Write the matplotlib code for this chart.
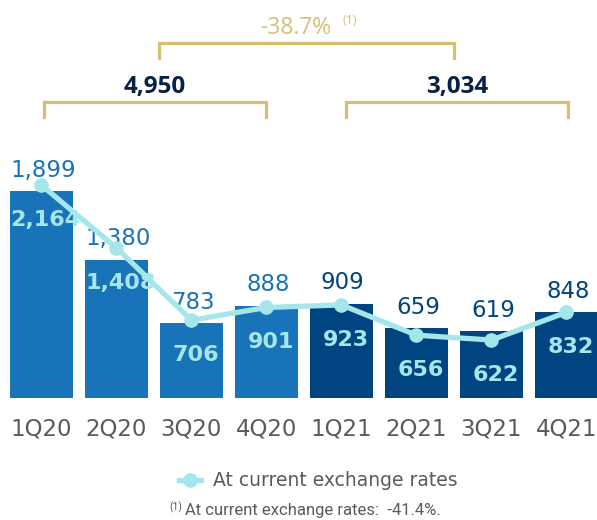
import numpy as np
import matplotlib
matplotlib.use("Agg")
import matplotlib.pyplot as plt
import matplotlib.transforms as mtransforms
from matplotlib.lines import Line2D

# quarterly figures
quarters = ["1Q20", "2Q20", "3Q20", "4Q20", "1Q21", "2Q21", "3Q21", "4Q21"]
constant_fx = np.array([2164, 1408, 706, 901, 923, 656, 622, 832])   # bars
current_fx = np.array([1899, 1380, 783, 888, 909, 659, 619, 848])    # line
totals = ["4,950", "3,034"]
change = "-38.7%"
footnote = "At current exchange rates:  -41.4%."

# colours
BLUE_20 = "#1973B8"
BLUE_21 = "#004481"
AQUA = "#A5E6EB"
GOLD = "#D8BE75"
NAVY = "#072146"
GREY = "#5a5a5a"

# the original chart does not start its bars at zero
BASE = 110

fig = plt.figure(figsize=(5.97, 5.20), dpi=100)
ax = fig.add_axes([0, 122.5 / 520, 1, 397.5 / 520])
ax2 = ax.twinx()

x = np.arange(len(quarters))
colors = [BLUE_20] * 4 + [BLUE_21] * 4
ax.bar(x, constant_fx + BASE, bottom=-BASE, width=0.84, color=colors, zorder=1)
ax.set_xlim(-0.553, 7.407)
ax.set_ylim(-BASE, 4268)
ax2.set_ylim(144, 3429)

ax2.plot(x, current_fx, color=AQUA, lw=3.8, marker="o", ms=9.5, zorder=3)

# values above bars (current fx) and inside bars (constant fx)
for i in range(len(x)):
    ax.annotate(f"{current_fx[i]:,}", (x[i], constant_fx[i]), xytext=(1, 15),
                textcoords="offset points", ha="center", va="center",
                fontsize=16.5, color=colors[i], zorder=4)
    ax2.annotate(f"{constant_fx[i]:,}", (x[i], current_fx[i]), xytext=(3, -25),
                 textcoords="offset points", ha="center", va="center",
                 fontsize=16, fontweight="bold", color=AQUA, zorder=4)

ax.set_xticks(x)
ax.set_xticklabels(quarters, fontsize=16.5, color=GREY)
ax.tick_params(axis="x", length=0, pad=14.5)
ax.set_yticks([])
ax2.set_yticks([])
for a in (ax, ax2):
    for s in a.spines.values():
        s.set_visible(False)

# brackets
tr = mtransforms.blended_transform_factory(ax.transData, fig.transFigure)

def bracket(x0, x1, ytop, ybot, text, tcolor, ty, **kw):
    yt = 1 - ytop / 520
    yb = 1 - ybot / 520
    fig.add_artist(Line2D([x0, x0, x1, x1], [yb, yt, yt, yb], transform=tr,
                          color=GOLD, lw=2.3, solid_joinstyle="miter"))
    if text:
        fig.text((x0 + x1) / 2, 1 - ty / 520, text, transform=tr, ha="center",
                 va="center", color=tcolor, **kw)

bracket(0.033, 3.0, 102, 117, totals[0], NAVY, 86.5,
        fontsize=17.5, fontweight="bold", family="Open Sans")
bracket(4.06, 7.02, 102, 117, totals[1], NAVY, 86.5,
        fontsize=17.5, fontweight="bold", family="Open Sans")
bracket(1.567, 5.5, 42.5, 58, None, GOLD, 28)
fig.text(3.39, 1 - 28.5 / 520, change, transform=tr, ha="center", va="center",
         color=GOLD, fontsize=16.5, family="Open Sans")
fig.text(4.113, 1 - 21 / 520, "(1)", transform=tr, ha="center", va="center",
         color=GOLD, fontsize=9, family="Open Sans")

# legend
handle = Line2D([], [], color=AQUA, lw=3.8, marker="o", ms=9.5)
leg = fig.legend([handle], ["At current exchange rates"], loc="center",
                 bbox_to_anchor=(318 / 597, 1 - 481 / 520), frameon=False,
                 handlelength=1.2, handletextpad=0.6, fontsize=13.5)
for t in leg.get_texts():
    t.set_color(GREY)

# footnote
fig.text(176 / 597, 1 - 507 / 520, "(1)", ha="center", va="center",
         fontsize=7.5, color=GREY, family="Roboto")
fig.text(185 / 597, 1 - 511 / 520, footnote, ha="left", va="center",
         fontsize=12, color=GREY, family="Roboto")

fig.savefig("out.png", dpi=100)
